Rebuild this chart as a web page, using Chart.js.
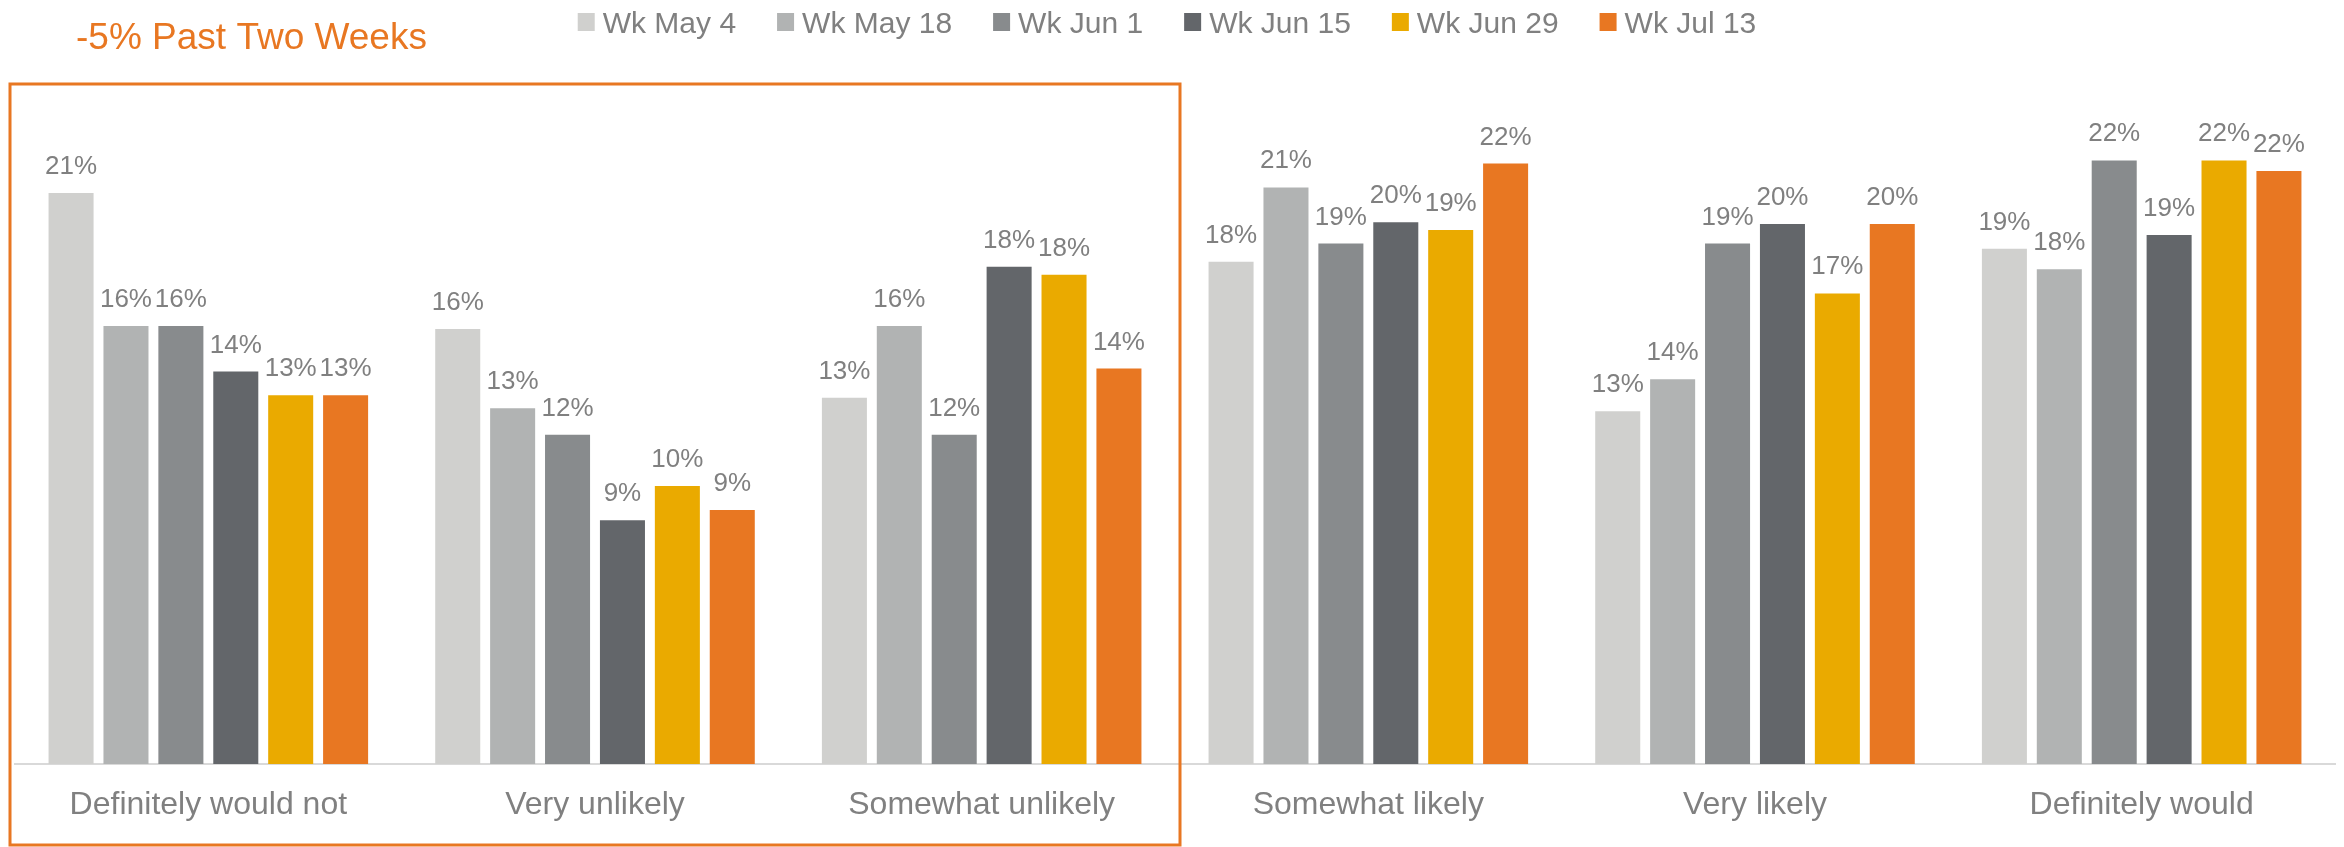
<!DOCTYPE html>
<html>
<head>
<meta charset="utf-8">
<title>Likelihood by week</title>
<script src="https://cdn.jsdelivr.net/npm/chart.js@4/dist/chart.umd.min.js"></script>
<style>
  html, body { margin: 0; padding: 0; background: #ffffff; }
  #wrap { position: relative; width: 2344px; height: 847px; }
</style>
</head>
<body>
<div id="wrap"><canvas id="chart"></canvas></div>
<script>
// Answer categories along the x axis
const categories = ['Definitely would not', 'Very unlikely', 'Somewhat unlikely', 'Somewhat likely', 'Very likely', 'Definitely would'];

// Survey weeks (legend labels)
const weekLabels = ['Wk May 4', 'Wk May 18', 'Wk Jun 1', 'Wk Jun 15', 'Wk Jun 29', 'Wk Jul 13'];

// Share of respondents (%) per category, one array per week
const wkMay4  = [20.75, 15.81, 13.31, 18.25, 12.82, 18.72];
const wkMay18 = [15.92, 12.93, 15.92, 20.95, 13.98, 17.98];
const wkJun1  = [15.92, 11.96, 11.96, 18.91, 18.91, 21.93];
const wkJun15 = [14.26,  8.86, 18.07, 19.69, 19.62, 19.22];
const wkJun29 = [13.40, 10.10, 17.78, 19.40, 17.10, 21.93];
const wkJul13 = [13.40,  9.23, 14.37, 21.82, 19.62, 21.55];

const weekColors = ['#D0D0CE', '#B1B3B3', '#888B8D', '#63666A', '#EAAA00', '#E87722'];

const headline = '-5% Past Two Weeks';
const FONT = '"Liberation Sans", Arial, Helvetica, sans-serif';
const TEXT_GREY = '#808080';
const ORANGE = '#E87722';

const seriesValues = [wkMay4, wkMay18, wkJun1, wkJun15, wkJun29, wkJul13];

const datasets = seriesValues.map((vals, i) => ({
  label: weekLabels[i],
  data: vals,
  backgroundColor: weekColors[i],
  borderWidth: 0,
  categoryPercentage: 0.852,
  barPercentage: 0.82
}));

// Percentage labels above every bar
const valueLabels = {
  id: 'valueLabels',
  afterDatasetsDraw(chart) {
    const ctx = chart.ctx;
    ctx.save();
    ctx.font = '26px ' + FONT;
    ctx.fillStyle = TEXT_GREY;
    ctx.textAlign = 'center';
    ctx.textBaseline = 'alphabetic';
    chart.data.datasets.forEach((ds, di) => {
      const meta = chart.getDatasetMeta(di);
      meta.data.forEach((bar, i) => {
        ctx.fillText(Math.round(ds.data[i]) + '%', bar.x, bar.y - 19);
      });
    });
    ctx.restore();
  }
};

// Headline at top-left and the week legend across the top
const header = {
  id: 'header',
  afterDraw(chart) {
    const ctx = chart.ctx;
    ctx.save();
    ctx.font = '37px ' + FONT;
    ctx.fillStyle = ORANGE;
    ctx.textAlign = 'left';
    ctx.textBaseline = 'alphabetic';
    ctx.fillText(headline, 76, 49);

    ctx.font = '30px ' + FONT;
    const box = 17, boxGap = 8, itemGap = 41;
    const items = chart.data.datasets.map(ds => ({
      text: ds.label, color: ds.backgroundColor, w: ctx.measureText(ds.label).width
    }));
    const total = items.reduce((s, it) => s + box + boxGap + it.w, 0) + itemGap * (items.length - 1);
    let x = chart.width / 2 - 5 - total / 2;
    items.forEach(it => {
      ctx.fillStyle = it.color;
      ctx.fillRect(x, 13, box, 18);
      ctx.fillStyle = TEXT_GREY;
      ctx.fillText(it.text, x + box + boxGap, 33);
      x += box + boxGap + it.w + itemGap;
    });
    ctx.restore();
  }
};

// Outline around the three "unlikely" categories
const focusBox = {
  id: 'focusBox',
  afterDraw(chart) {
    const xs = chart.scales.x;
    const step = (xs.right - xs.left) / categories.length;
    const left = xs.left - 5;
    const right = xs.left + step * 3 + 5;
    const top = chart.chartArea.top + 8;
    const bottom = chart.height - 2;
    const ctx = chart.ctx;
    ctx.save();
    ctx.strokeStyle = ORANGE;
    ctx.lineWidth = 3;
    ctx.strokeRect(left, top, right - left, bottom - top);
    ctx.restore();
  }
};

new Chart(document.getElementById('chart'), {
  type: 'bar',
  data: { labels: categories, datasets },
  options: {
    responsive: true,
    maintainAspectRatio: false,
    animation: false,
    devicePixelRatio: 1,
    layout: { padding: { top: 76, left: 15, right: 9, bottom: 0 } },
    plugins: {
      legend: { display: false },
      tooltip: { enabled: false }
    },
    scales: {
      x: {
        grid: { display: false },
        border: { display: true, color: '#D9D9D9', width: 2 },
        ticks: {
          color: TEXT_GREY,
          font: { family: FONT, size: 32 },
          padding: 14,
          maxRotation: 0,
          autoSkip: false
        },
        afterFit(scale) { scale.height = 83; }
      },
      y: {
        display: false,
        min: 0,
        max: 25
      }
    }
  },
  plugins: [valueLabels, header, focusBox]
});
</script>
</body>
</html>
